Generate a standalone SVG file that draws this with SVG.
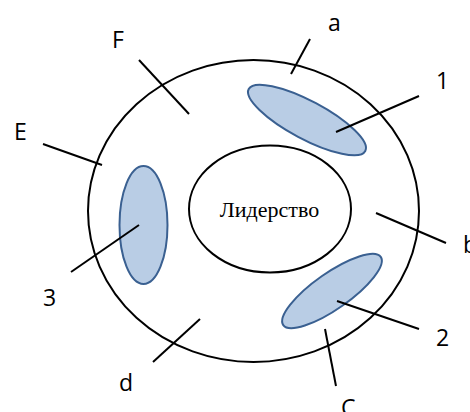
<svg xmlns="http://www.w3.org/2000/svg" width="470" height="412" viewBox="0 0 470 412">
<style>
.ring{fill:none;stroke:#000;stroke-width:2}
.blob{fill:#B9CDE5;stroke:#3A6091;stroke-width:2}
.lbl{font-family:"Open Sans","Liberation Sans",sans-serif;font-size:23px;fill:#000}
.core{font-family:"Liberation Serif","Times New Roman",serif;font-size:22px;fill:#000}
#connectors line{stroke:#000;stroke-width:2}
</style>
<rect width="470" height="412" fill="#fff"/>
<g id="outer"><ellipse class="ring" cx="253.5" cy="211" rx="165.5" ry="151"/></g>
<g id="leadership"><ellipse class="ring" cx="270" cy="209" rx="81" ry="63.5"/>
<text class="core" x="269.5" y="217" text-anchor="middle">Лидерство</text></g>
<g id="n1"><ellipse class="blob" cx="307" cy="120" rx="66" ry="19" transform="rotate(28 307 120)"/></g>
<g id="n2"><ellipse class="blob" cx="332" cy="291" rx="59.5" ry="18" transform="rotate(-35 332 291)"/></g>
<g id="n3"><ellipse class="blob" cx="143.5" cy="225" rx="24" ry="59"/></g>
<g id="connectors">
<line x1="139" y1="60" x2="189" y2="114"/>
<line x1="43" y1="144" x2="102" y2="165"/>
<line x1="310" y1="39" x2="291" y2="74"/>
<line x1="419" y1="96" x2="336" y2="132"/>
<line x1="376" y1="213" x2="446" y2="243"/>
<line x1="337" y1="301" x2="419" y2="329"/>
<line x1="325" y1="329" x2="336" y2="386"/>
<line x1="139" y1="225" x2="71" y2="272"/>
<line x1="200" y1="319" x2="153" y2="362"/>
</g>
<g id="labels">
<text class="lbl" x="112" y="48">F</text>
<text class="lbl" x="14" y="140">E</text>
<text class="lbl" x="328" y="31">a</text>
<text class="lbl" x="436" y="89">1</text>
<text class="lbl" x="463" y="253">b</text>
<text class="lbl" x="436" y="346">2</text>
<text class="lbl" x="341" y="416">C</text>
<text class="lbl" x="43" y="306">3</text>
<text class="lbl" x="119" y="391">d</text>
</g>
</svg>
